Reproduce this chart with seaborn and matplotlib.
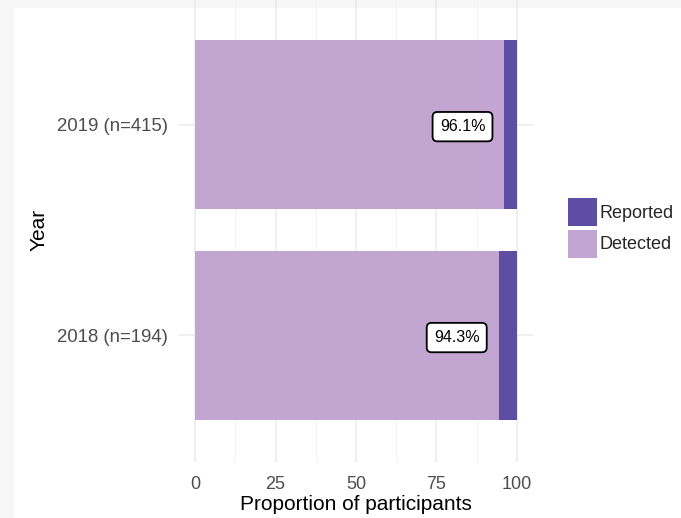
import matplotlib
matplotlib.use("Agg")
import matplotlib.pyplot as plt
from matplotlib.patches import Rectangle, Patch
from matplotlib.ticker import MultipleLocator
import seaborn as sns
import pandas as pd

# data
years = ["2019 (n=415)", "2018 (n=194)"]
detected = [96.1, 94.3]
reported = [100.0, 100.0]   # detected + reported stack to 100
labels = ["96.1%", "94.3%"]

col_reported = "#5d4ea3"
col_detected = "#c2a5d0"

df = pd.DataFrame({"Year": years, "Detected": detected, "Reported": reported})

sns.set_theme(style="white")
plt.rcParams["font.family"] = ["Liberation Sans", "DejaVu Sans"]

fig = plt.figure(figsize=(6.81, 5.18), dpi=100)
fig.patch.set_facecolor("#f7f7f7")
fig.patches.append(Rectangle((14 / 681, 0), 1, 1 - 8 / 518, transform=fig.transFigure,
                             facecolor="white", edgecolor="none", zorder=-10))

ax = fig.add_axes([179 / 681, 56 / 518, 354 / 681, 464 / 518])
ax.set_zorder(1)
ax.set_facecolor("none")

sns.barplot(data=df, x="Reported", y="Year", orient="h", color=col_reported,
            width=0.8, saturation=1, linewidth=0, ax=ax, zorder=3)
sns.barplot(data=df, x="Detected", y="Year", orient="h", color=col_detected,
            width=0.8, saturation=1, linewidth=0, ax=ax, zorder=3)

for i, (d, lab) in enumerate(zip(detected, labels)):
    ax.text(d - 13, i + 0.01, lab, ha="center", va="center", fontsize=11.5, color="black",
            zorder=5,
            bbox=dict(boxstyle="round,pad=0.45,rounding_size=0.3", fc="white", ec="black", lw=1.3))

ax.set_xlim(-5, 105)
ax.set_ylim(1.6, -0.6)
ax.xaxis.set_major_locator(MultipleLocator(25))
ax.xaxis.set_minor_locator(MultipleLocator(12.5))
ax.grid(True, which="major", axis="both", color="#ebebeb", lw=1.1, zorder=0)
ax.grid(True, which="minor", axis="x", color="#f2f2f2", lw=0.6, zorder=0)
ax.set_axisbelow(True)
for s in ax.spines.values():
    s.set_visible(False)

ax.tick_params(axis="both", which="both", length=0, labelsize=13, labelcolor="#4d4d4d")
ax.tick_params(axis="x", pad=10)
ax.tick_params(axis="y", pad=8, labelsize=13.4)

ax.set_xlabel("Proportion of participants", fontsize=15, color="black")
ax.set_ylabel("Year", fontsize=15, color="black")
ax.xaxis.set_label_coords(0.5, -0.072)
ax.yaxis.set_label_coords(-0.37, 0.5)

handles = [Patch(facecolor=col_reported, edgecolor="none", label="Reported"),
           Patch(facecolor=col_detected, edgecolor="none", label="Detected")]
fig.legend(handles=handles, loc="center left", bbox_to_anchor=(559 / 681, 1 - 228 / 518),
           frameon=False, fontsize=13, handlelength=1.6, handleheight=2.0,
           handletextpad=0.15, labelspacing=0.2, borderpad=0)

fig.savefig("out.png", dpi=100, facecolor=fig.get_facecolor())
